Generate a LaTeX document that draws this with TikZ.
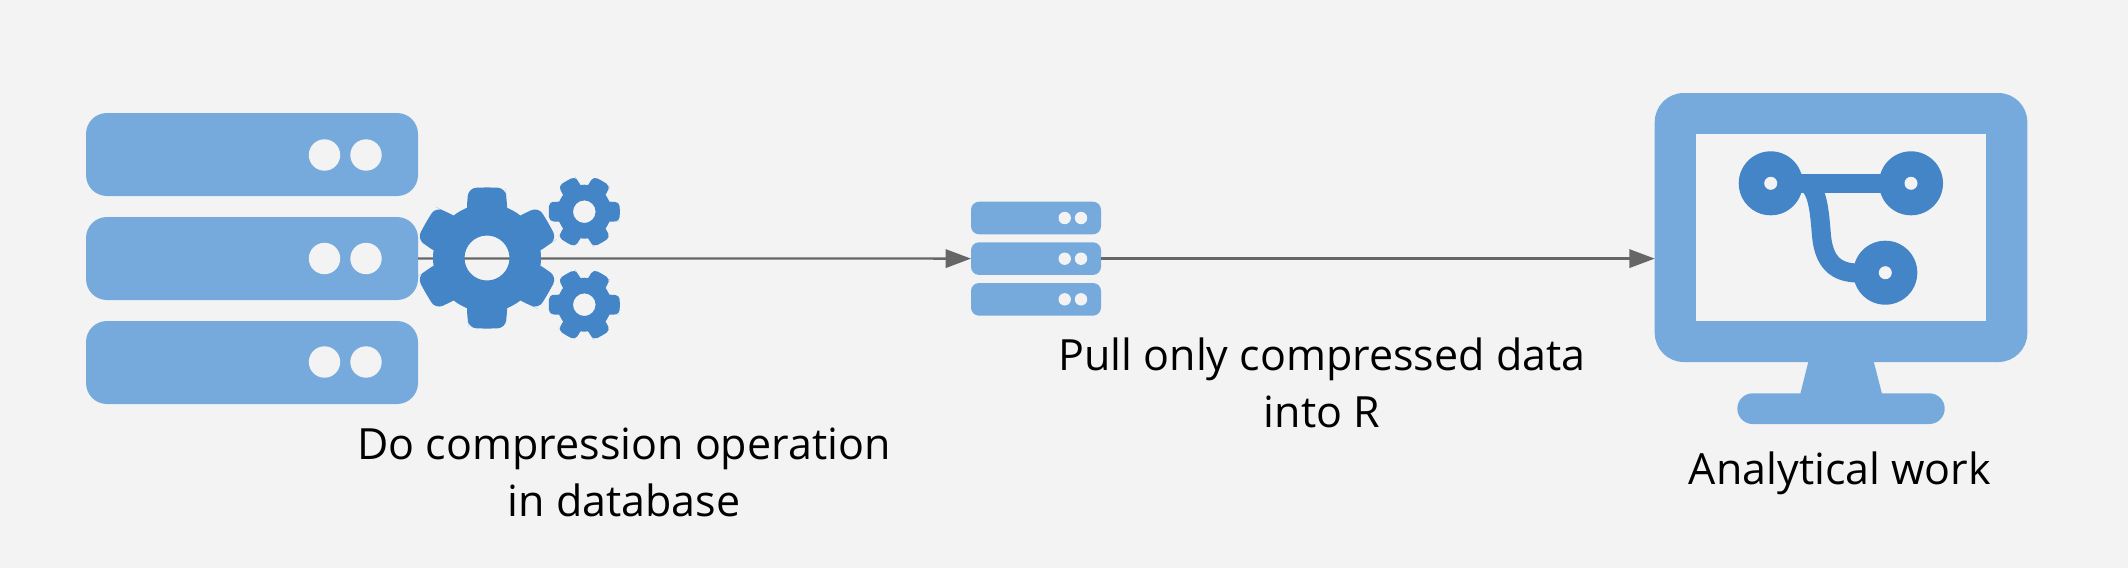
\documentclass[tikz,border=0pt]{standalone}
\usepackage{fontspec}
\setmainfont{Open Sans}
\usetikzlibrary{arrows.meta}
\definecolor{bgc}{HTML}{F3F3F3}
\definecolor{lightb}{HTML}{76AADD}
\definecolor{darkb}{HTML}{4485C8}
\definecolor{linec}{HTML}{666666}
\tikzset{
  box/.style={fill=lightb,draw=none,inner sep=0pt,outer sep=0pt,anchor=north west},
  bigsrv/.style={box,minimum width=166pt,minimum height=41.5pt,rounded corners=10.5pt},
  smallsrv/.style={box,minimum width=65pt,minimum height=16.3pt,rounded corners=4pt},
  arr/.style={draw=linec,line width=1.15pt,-{Triangle[length=12.7pt,width=9.2pt]},shorten >=0pt},
  lab/.style={align=center,text=black,inner sep=0pt,font=\fontsize{21.5}{28.5}\selectfont},
  dot/.style={fill=bgc},
  net/.style={draw=darkb,line width=9.5pt},
}
\newcommand{\gearshape}[7]{% x,y,hole,body,tip,base half width,tip half width
  \fill[darkb,even odd rule] (#1,#2) circle[radius=#4] (#1,#2) circle[radius=#3];
  \foreach \a in \gearangles {
    \begin{scope}[shift={(#1,#2)},rotate=\a]
      \fill[darkb]
        ({#3+(#4-#3)*0.5},{-#6}) -- (#4-1,{-#6}) -- ({(#4+#5)/2},{-(#6+#7)/2})
        [rounded corners=#7*0.21pt] -- (#5,{-#7}) -- ({#5+0.7},0) -- (#5,{#7}) -- ({(#4+#5)/2},{(#6+#7)/2})
        [sharp corners] -- (#4-1,{#6}) -- ({#3+(#4-#3)*0.5},{#6}) -- cycle;
    \end{scope}
  }
}
\begin{document}
\begin{tikzpicture}[x=0.5pt,y=-0.5pt]
\useasboundingbox (0,0) rectangle (2128,568);
\fill[bgc] (0,0) rectangle (2128,568);
% big server
\node[bigsrv] (s1) at (86,113) {};
\node[bigsrv] (s2) at (86,217) {};
\node[bigsrv] (s3) at (86,321) {};
\foreach \y in {155,258.5,362}{
  \fill[dot] (324.5,\y) circle[radius=15.7];
  \fill[dot] (366,\y) circle[radius=15.7];
}
% small server
\node[smallsrv] (t1) at (971,201.7) {};
\node[smallsrv] (t2) at (971,242.3) {};
\node[smallsrv] (t3) at (971,283) {};
\foreach \y in {218,258.7,299.3}{
  \fill[dot] (1064.7,\y) circle[radius=6.2];
  \fill[dot] (1081,\y) circle[radius=6.2];
}
% monitor
\fill[lightb] (1810,355) -- (1872,355) -- (1882.3,395) -- (1800,395) -- cycle;
\fill[lightb,rounded corners=7.7pt] (1737.3,393.3) rectangle (1944.7,424);
\node[box,minimum width=186.3pt,minimum height=134.5pt,rounded corners=14.5pt] (mon) at (1654.7,93) {};
\node[box,fill=bgc,minimum width=145pt,minimum height=93.5pt] (scr) at (1696,134) {};
% network glyph
\draw[net] (1770.7,183.3) -- (1911,183.3);
\draw[net] (1806.7,183.3) .. controls (1818,190) and (1819.5,212) .. (1821.5,236) .. controls (1824,262) and (1836,273) .. (1858,273) -- (1885.3,272.7);
\foreach \x/\y in {1770.7/183.3,1911/183.3,1885.3/272.7}{
  \fill[darkb] (\x,\y) circle[radius=32];
  \fill[bgc] (\x,\y) circle[radius=6.5];
}
% connectors
\draw[arr] (s2.east) -- (t2.west);
\draw[arr] (t2.east) -- (t2.east -| mon.west);
% gears
\def\gearangles{30,90,150,210,270,330}
\gearshape{487}{258}{22.5}{54}{70}{20}{18.5}
\def\gearangles{0,60,120,180,240,300}
\gearshape{584.3}{211.7}{11.3}{27}{35}{10}{9.5}
\gearshape{584.3}{304.7}{11.3}{27}{35}{10}{9.5}
% labels
\node[lab] (l1) at (624,472) {Do compression operation\\in database};
\node[lab] (l2) at (1322,383) {Pull only compressed data\\into R};
\node[lab] (l3) at (1840,473) {Analytical work};
\end{tikzpicture}
\end{document}
